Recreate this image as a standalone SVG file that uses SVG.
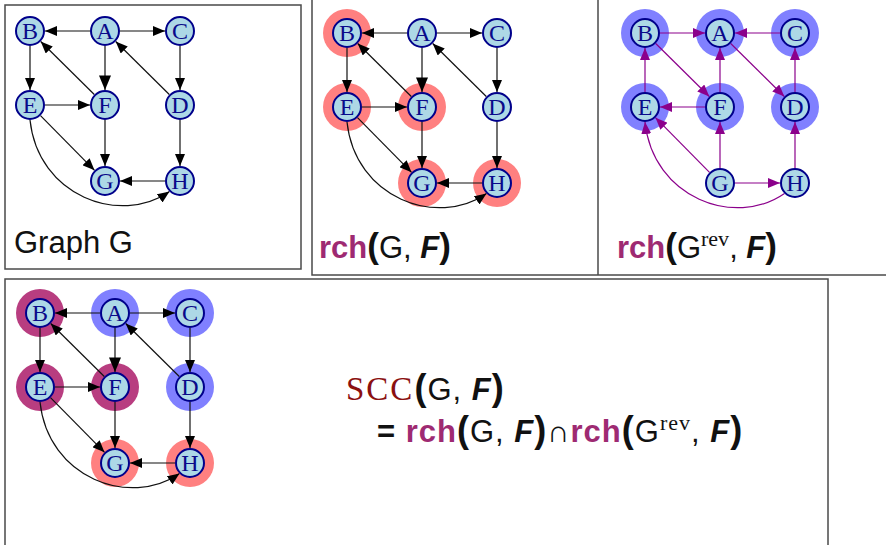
<svg xmlns="http://www.w3.org/2000/svg" width="886" height="545" viewBox="0 0 886 545">
<defs>
<style>
.frame{fill:none;stroke:#4a4a4a;stroke-width:1.5}
.nd{fill:#add8e6;stroke:#00008b;stroke-width:2}
.nt{font-family:"Liberation Serif","DejaVu Serif",serif;font-size:24px;fill:#0a0a8a;text-anchor:middle}
.e{fill:none;stroke:#111;stroke-width:1.2}
.er{fill:none;stroke:#8b008b;stroke-width:1.2}
.hr{fill:#ff8080}
.hb{fill:#8080ff}
.hp{fill:#b83d80}
.lbl{font-family:"Liberation Sans","DejaVu Sans",sans-serif;font-size:31px;fill:#111}
.rch{font-weight:bold;fill:#9e2a72}
.F{font-weight:bold;font-style:italic}
.par{font-weight:bold}
.sup{font-family:"Liberation Serif","DejaVu Serif",serif;font-size:22px}
.scc{font-family:"Liberation Serif","DejaVu Serif",serif;fill:#8b1010;font-size:33px;letter-spacing:2px}
</style>
<marker id="ak" viewBox="0 0 12 10" refX="12" refY="5" markerWidth="12" markerHeight="10" markerUnits="userSpaceOnUse" orient="auto"><path d="M0,0L12,5L0,10z" fill="#000"/></marker>
<marker id="akL" viewBox="0 0 12 10" refX="12" refY="5" markerWidth="16" markerHeight="12" markerUnits="userSpaceOnUse" orient="auto"><path d="M0,0L12,5L0,10z" fill="#000"/></marker>
<marker id="am" viewBox="0 0 12 10" refX="12" refY="5" markerWidth="12" markerHeight="10" markerUnits="userSpaceOnUse" orient="auto"><path d="M0,0L12,5L0,10z" fill="#8b008b"/></marker>
</defs>

<rect class="frame" x="5" y="5" width="296" height="264"/>
<rect class="frame" x="312" y="-2" width="600" height="277"/>
<line class="frame" x1="598" y1="-2" x2="598" y2="275"/>
<rect class="frame" x="5" y="279" width="823" height="280"/>

<!-- Panel 1 -->
<g id="p1" transform="translate(30,31)">
<g id="p1-edges" class="e">
<path d="M60,0L15,0" marker-end="url(#ak)"/>
<path d="M90,0L135,0" marker-end="url(#ak)"/>
<path d="M75,15L75,59" marker-end="url(#akL)"/>
<path d="M0,15L0,59" marker-end="url(#ak)"/>
<path d="M64.3,63.5L10.7,10.5" marker-end="url(#ak)"/>
<path d="M139.3,63.5L85.7,10.5" marker-end="url(#ak)"/>
<path d="M150,15L150,59" marker-end="url(#ak)"/>
<path d="M15,74L60,74" marker-end="url(#ak)"/>
<path d="M10.5,84.7L64.5,139.3" marker-end="url(#ak)"/>
<path d="M75,89L75,135" marker-end="url(#ak)"/>
<path d="M150,89L150,135" marker-end="url(#ak)"/>
<path d="M135,150L90,150" marker-end="url(#ak)"/>
<path d="M0,89C8,165 90,195 139.5,160.5" marker-end="url(#ak)"/>
</g>
<g id="p1-B"><circle class="nd" cx="0" cy="0" r="14"/><text class="nt" x="0" y="8">B</text></g>
<g id="p1-A"><circle class="nd" cx="75" cy="0" r="14"/><text class="nt" x="75" y="8">A</text></g>
<g id="p1-C"><circle class="nd" cx="150" cy="0" r="14"/><text class="nt" x="150" y="8">C</text></g>
<g id="p1-E"><circle class="nd" cx="0" cy="74" r="14"/><text class="nt" x="0" y="82">E</text></g>
<g id="p1-F"><circle class="nd" cx="75" cy="74" r="14"/><text class="nt" x="75" y="82">F</text></g>
<g id="p1-D"><circle class="nd" cx="150" cy="74" r="14"/><text class="nt" x="150" y="82">D</text></g>
<g id="p1-G"><circle class="nd" cx="75" cy="150" r="14"/><text class="nt" x="75" y="158">G</text></g>
<g id="p1-H"><circle class="nd" cx="150" cy="150" r="14"/><text class="nt" x="150" y="158">H</text></g>
</g>
<text class="lbl" x="14" y="253" font-size="27">Graph G</text>

<!-- Panel 2 -->
<g id="p2" transform="translate(347,33)">
<g id="p2-halos">
<circle class="hr" cx="0" cy="0" r="24"/>
<circle class="hr" cx="0" cy="74" r="24"/>
<circle class="hr" cx="75" cy="74" r="24"/>
<circle class="hr" cx="75" cy="150" r="24"/>
<circle class="hr" cx="150" cy="150" r="24"/>
</g>
<g id="p2-edges" class="e">
<path d="M60,0L15,0" marker-end="url(#ak)"/>
<path d="M90,0L135,0" marker-end="url(#ak)"/>
<path d="M75,15L75,59" marker-end="url(#akL)"/>
<path d="M0,15L0,59" marker-end="url(#ak)"/>
<path d="M64.3,63.5L10.7,10.5" marker-end="url(#ak)"/>
<path d="M139.3,63.5L85.7,10.5" marker-end="url(#ak)"/>
<path d="M150,15L150,59" marker-end="url(#ak)"/>
<path d="M15,74L60,74" marker-end="url(#ak)"/>
<path d="M10.5,84.7L64.5,139.3" marker-end="url(#ak)"/>
<path d="M75,89L75,135" marker-end="url(#ak)"/>
<path d="M150,89L150,135" marker-end="url(#ak)"/>
<path d="M135,150L90,150" marker-end="url(#ak)"/>
<path d="M0,89C8,165 90,195 139.5,160.5" marker-end="url(#ak)"/>
</g>
<g id="p2-B"><circle class="nd" cx="0" cy="0" r="14"/><text class="nt" x="0" y="8">B</text></g>
<g id="p2-A"><circle class="nd" cx="75" cy="0" r="14"/><text class="nt" x="75" y="8">A</text></g>
<g id="p2-C"><circle class="nd" cx="150" cy="0" r="14"/><text class="nt" x="150" y="8">C</text></g>
<g id="p2-E"><circle class="nd" cx="0" cy="74" r="14"/><text class="nt" x="0" y="82">E</text></g>
<g id="p2-F"><circle class="nd" cx="75" cy="74" r="14"/><text class="nt" x="75" y="82">F</text></g>
<g id="p2-D"><circle class="nd" cx="150" cy="74" r="14"/><text class="nt" x="150" y="82">D</text></g>
<g id="p2-G"><circle class="nd" cx="75" cy="150" r="14"/><text class="nt" x="75" y="158">G</text></g>
<g id="p2-H"><circle class="nd" cx="150" cy="150" r="14"/><text class="nt" x="150" y="158">H</text></g>
</g>
<text class="lbl" x="319" y="258"><tspan class="rch">rch</tspan><tspan class="par" font-size="35">(</tspan>G, <tspan class="F">F</tspan><tspan class="par" font-size="35">)</tspan></text>

<!-- Panel 3 -->
<g id="p3" transform="translate(645,33)">
<g id="p3-halos">
<circle class="hb" cx="0" cy="0" r="24"/>
<circle class="hb" cx="75" cy="0" r="24"/>
<circle class="hb" cx="150" cy="0" r="24"/>
<circle class="hb" cx="0" cy="74" r="24"/>
<circle class="hb" cx="75" cy="74" r="24"/>
<circle class="hb" cx="150" cy="74" r="24"/>
</g>
<g id="p3-edges" class="er">
<path d="M15,0L60,0" marker-end="url(#am)"/>
<path d="M135,0L90,0" marker-end="url(#am)"/>
<path d="M75,59L75,15" marker-end="url(#am)"/>
<path d="M0,59L0,15" marker-end="url(#am)"/>
<path d="M10.7,10.5L64.3,63.5" marker-end="url(#am)"/>
<path d="M85.7,10.5L139.3,63.5" marker-end="url(#am)"/>
<path d="M150,59L150,15" marker-end="url(#am)"/>
<path d="M60,74L15,74" marker-end="url(#am)"/>
<path d="M64.5,139.3L10.5,84.7" marker-end="url(#am)"/>
<path d="M75,135L75,89" marker-end="url(#am)"/>
<path d="M150,135L150,89" marker-end="url(#am)"/>
<path d="M90,150L135,150" marker-end="url(#am)"/>
<path d="M139.5,160.5C90,195 8,165 0,89" marker-end="url(#am)"/>
</g>
<g id="p3-B"><circle class="nd" cx="0" cy="0" r="14"/><text class="nt" x="0" y="8">B</text></g>
<g id="p3-A"><circle class="nd" cx="75" cy="0" r="14"/><text class="nt" x="75" y="8">A</text></g>
<g id="p3-C"><circle class="nd" cx="150" cy="0" r="14"/><text class="nt" x="150" y="8">C</text></g>
<g id="p3-E"><circle class="nd" cx="0" cy="74" r="14"/><text class="nt" x="0" y="82">E</text></g>
<g id="p3-F"><circle class="nd" cx="75" cy="74" r="14"/><text class="nt" x="75" y="82">F</text></g>
<g id="p3-D"><circle class="nd" cx="150" cy="74" r="14"/><text class="nt" x="150" y="82">D</text></g>
<g id="p3-G"><circle class="nd" cx="75" cy="150" r="14"/><text class="nt" x="75" y="158">G</text></g>
<g id="p3-H"><circle class="nd" cx="150" cy="150" r="14"/><text class="nt" x="150" y="158">H</text></g>
</g>
<text class="lbl" x="617" y="258"><tspan class="rch">rch</tspan><tspan class="par" font-size="35">(</tspan>G<tspan class="sup" dy="-12">rev</tspan><tspan dy="12">, </tspan><tspan class="F">F</tspan><tspan class="par" font-size="35">)</tspan></text>

<!-- Panel 4 -->
<g id="p4" transform="translate(40,313)">
<g id="p4-halos">
<circle class="hp" cx="0" cy="0" r="24"/>
<circle class="hb" cx="75" cy="0" r="24"/>
<circle class="hb" cx="150" cy="0" r="24"/>
<circle class="hp" cx="0" cy="74" r="24"/>
<circle class="hp" cx="75" cy="74" r="24"/>
<circle class="hb" cx="150" cy="74" r="24"/>
<circle class="hr" cx="75" cy="150" r="24"/>
<circle class="hr" cx="150" cy="150" r="24"/>
</g>
<g id="p4-edges" class="e">
<path d="M60,0L15,0" marker-end="url(#ak)"/>
<path d="M90,0L135,0" marker-end="url(#ak)"/>
<path d="M75,15L75,59" marker-end="url(#akL)"/>
<path d="M0,15L0,59" marker-end="url(#ak)"/>
<path d="M64.3,63.5L10.7,10.5" marker-end="url(#ak)"/>
<path d="M139.3,63.5L85.7,10.5" marker-end="url(#ak)"/>
<path d="M150,15L150,59" marker-end="url(#ak)"/>
<path d="M15,74L60,74" marker-end="url(#ak)"/>
<path d="M10.5,84.7L64.5,139.3" marker-end="url(#ak)"/>
<path d="M75,89L75,135" marker-end="url(#ak)"/>
<path d="M150,89L150,135" marker-end="url(#ak)"/>
<path d="M135,150L90,150" marker-end="url(#ak)"/>
<path d="M0,89C8,165 90,195 139.5,160.5" marker-end="url(#ak)"/>
</g>
<g id="p4-B"><circle class="nd" cx="0" cy="0" r="14"/><text class="nt" x="0" y="8">B</text></g>
<g id="p4-A"><circle class="nd" cx="75" cy="0" r="14"/><text class="nt" x="75" y="8">A</text></g>
<g id="p4-C"><circle class="nd" cx="150" cy="0" r="14"/><text class="nt" x="150" y="8">C</text></g>
<g id="p4-E"><circle class="nd" cx="0" cy="74" r="14"/><text class="nt" x="0" y="82">E</text></g>
<g id="p4-F"><circle class="nd" cx="75" cy="74" r="14"/><text class="nt" x="75" y="82">F</text></g>
<g id="p4-D"><circle class="nd" cx="150" cy="74" r="14"/><text class="nt" x="150" y="82">D</text></g>
<g id="p4-G"><circle class="nd" cx="75" cy="150" r="14"/><text class="nt" x="75" y="158">G</text></g>
<g id="p4-H"><circle class="nd" cx="150" cy="150" r="14"/><text class="nt" x="150" y="158">H</text></g>
</g>
<text class="lbl" x="346" y="400" font-size="32" letter-spacing="1"><tspan class="scc">SCC</tspan><tspan class="par" font-size="36">(</tspan>G, <tspan class="F">F</tspan><tspan class="par" font-size="36">)</tspan></text>
<text class="lbl" x="377" y="442" font-size="32" letter-spacing="1"><tspan class="par">=</tspan> <tspan class="rch">rch</tspan><tspan class="par" font-size="36">(</tspan>G, <tspan class="F">F</tspan><tspan class="par" font-size="36">)</tspan>∩<tspan class="rch">rch</tspan><tspan class="par" font-size="36">(</tspan>G<tspan class="sup" dy="-12">rev</tspan><tspan dy="12">, </tspan><tspan class="F">F</tspan><tspan class="par" font-size="36">)</tspan></text>
</svg>
